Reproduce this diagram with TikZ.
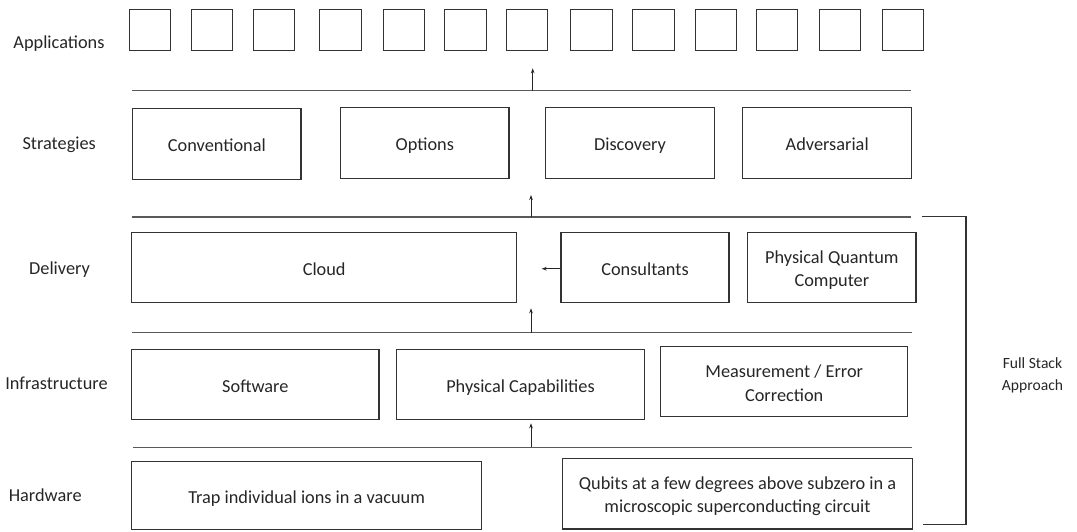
\documentclass[tikz,border=0pt]{standalone}
\usepackage{fontspec}
\setmainfont{Carlito}
\usetikzlibrary{arrows.meta}
\begin{document}
\begin{tikzpicture}[x=1pt,y=-1pt,
  every node/.style={font=\fontsize{18.3}{23.3}\selectfont, text=black!85},
  box/.style={draw=black!80, line width=1.1pt, inner sep=0pt, align=center},
  one/.style={box, text height=19.5pt, text depth=4pt},
  two/.style={box},
  twotext/.style={inner sep=0pt, align=center, font=\fontsize{18.3}{23.3}\selectfont, text=black!85},
  appbox/.style={box, minimum width=41.3pt, minimum height=41pt},
  sep/.style={draw=black!65, line width=1.5pt},
  arr/.style={draw=black!85, line width=0.8pt, -{Stealth[length=5pt,width=3.6pt]}},
  lbl/.style={inner sep=0pt, align=center}]
\useasboundingbox (0,0) rectangle (1077,531);
% Applications row
\node[lbl] (lApp) at (59,43.3) {Applications};
\foreach \x [count=\i] in {129,190.7,252.7,319.3,382.7,444.3,506,570.3,632.3,695,755.7,818.7,882}{
  \node[appbox, anchor=north west] (app\i) at (\x,9) {};
}
% separators
\coordinate (s1a) at (131.7,90.7); \coordinate (s1b) at (910.7,90.7);
\coordinate (s2a) at (131.7,217); \coordinate (s2b) at (910.5,217);
\coordinate (s3a) at (132,332.7); \coordinate (s3b) at (911.7,332.7);
\coordinate (s4a) at (133,447.3); \coordinate (s4b) at (911.7,447.3);
\draw[sep] (s1a) -- (s1b);
\draw[sep] (s2a) -- (s2b);
\draw[sep] (s3a) -- (s3b);
\draw[sep] (s4a) -- (s4b);
% Strategies row
\node[lbl] (lStr) at (59.2,145) {Strategies};
\node[one, minimum width=168.3pt, minimum height=71pt] (conv) at (216.85,143.8) {Conventional};
\node[one, minimum width=168.3pt, minimum height=71pt] (opt) at (424.85,142.8) {Options};
\node[one, minimum width=168.6pt, minimum height=71pt] (disc) at (630,142.8) {Discovery};
\node[one, minimum width=169pt, minimum height=71.4pt] (adv) at (827.2,143) {Adversarial};
% Delivery row
\node[lbl] (lDel) at (59.5,270) {Delivery};
\node[one, minimum width=385pt, minimum height=70pt] (cloud) at (324.2,267.3) {Cloud};
\node[one, minimum width=168pt, minimum height=70pt] (cons) at (645,267.3) {Consultants};
\node[two, minimum width=168.3pt, minimum height=70pt,
  label={[twotext, yshift=-3pt]center:Physical Quantum\\Computer}] (pqc) at (831.85,267.3) {};
% Infrastructure row
\node[lbl] (lInf) at (56.5,383.3) {Infrastructure};
\node[one, minimum width=247.3pt, minimum height=70pt] (soft) at (255.35,384.3) {Software};
\node[one, minimum width=247.6pt, minimum height=70pt] (phys) at (520.5,384.3) {Physical Capabilities};
\node[two, minimum width=247pt, minimum height=70pt,
  label={[twotext, yshift=-1.5pt]center:Measurement / Error\\Correction}] (meas) at (784.2,381.7) {};
% Hardware row
\node[lbl] (lHw) at (45.2,495) {Hardware};
\node[one, minimum width=350pt, minimum height=68pt] (trap) at (306.7,495.6) {Trap individual ions in a vacuum};
\node[two, minimum width=350.4pt, minimum height=70.7pt,
  label={[twotext, yshift=-2.5pt]center:Qubits at a few degrees above subzero in a\\microscopic superconducting circuit}] (qub) at (737.5,493.65) {};
% arrows
\coordinate (a1s) at (532.7,90.7); \coordinate (a1e) at (532.7,68.3);
\coordinate (a2s) at (531,217); \coordinate (a2e) at (531,195);
\coordinate (a3s) at (531,332.5); \coordinate (a3e) at (531,308.3);
\coordinate (a4s) at (531,447.3); \coordinate (a4e) at (531,423.3);
\coordinate (a5e) at (541.7,268.7);
\draw[arr] (a1s) -- (a1e);
\draw[arr] (a2s) -- (a2e);
\draw[arr] (a3s) -- (a3e);
\draw[arr] (a4s) -- (a4e);
\draw[arr] (cons.west |- a5e) -- (a5e);
% bracket
\coordinate (b1) at (921.7,216.7); \coordinate (b2) at (966,216.7);
\coordinate (b3) at (966,524.3); \coordinate (b4) at (923.3,524.3);
\draw[draw=black!80, line width=1.1pt] (b1) -- (b2) -- (b3) -- (b4);
\node[lbl, font=\fontsize{15.6}{21.7}\selectfont] (full) at (1032.5,375) {Full Stack\\Approach};
\end{tikzpicture}
\end{document}
